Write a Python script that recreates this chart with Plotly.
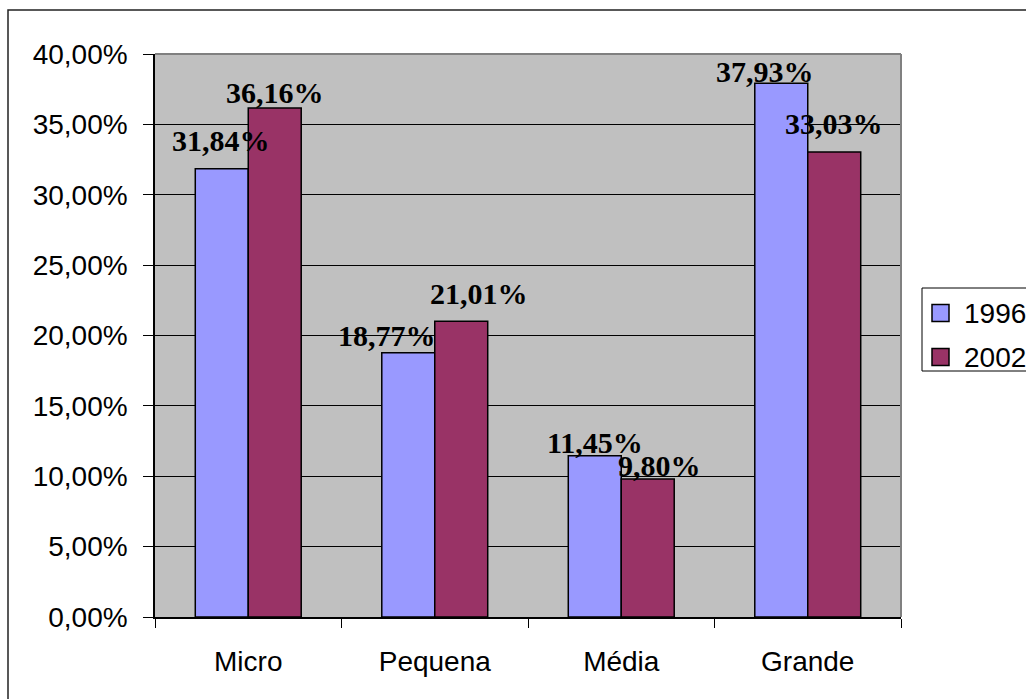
import plotly.graph_objects as go

# ---------------- data ----------------
categories = ["Micro", "Pequena", "Média", "Grande"]
series_names = ["1996", "2002"]
values_1996 = [31.84, 18.77, 11.45, 37.93]
values_2002 = [36.16, 21.01, 9.80, 33.03]
y_tick_values = [0, 5, 10, 15, 20, 25, 30, 35, 40]
y_tick_labels = ["0,00%", "5,00%", "10,00%", "15,00%", "20,00%",
                 "25,00%", "30,00%", "35,00%", "40,00%"]

# ---------------- styling / layout ----------------
W, H = 1026, 699
ML, MR, MT, MB = 155, 125, 54, 82
PW, PH = W - ML - MR, H - MT - MB
COLORS = ["#9999FF", "#993366"]
BARGAP = 0.432
AXIS_FONT = dict(family="Liberation Sans, Arial, sans-serif", size=28, color="black")
LABEL_FONT = dict(family="Liberation Serif, Times New Roman, serif", size=30, color="black")

# per-label pixel nudges (horizontal from bar centre, baseline gap above bar top)
label_dx = [[-1, -21, 0, -16], [0, 18, 12, 0]]
label_gap = [[18, 7, 3, 1], [5, 17, 3, 18]]
DESCENT = 8


def px2x(px):
    return (px - ML) / PW


def py2y(py):
    return (H - MB - py) / PH


def fmt(v):
    return f"{v:.2f}".replace(".", ",") + "%"


fig = go.Figure()
series_values = [values_1996, values_2002]
for name, vals, col in zip(series_names, series_values, COLORS):
    fig.add_trace(go.Bar(
        x=categories, y=vals, name=name,
        marker=dict(color=col, line=dict(color="black", width=1.5)),
        showlegend=False, hoverinfo="skip",
    ))

cat_w = PW / len(categories)
bar_w = cat_w * (1 - BARGAP) / 2
annotations = []
for s, vals in enumerate(series_values):
    side = -1 if s == 0 else 1
    for i, (c, v) in enumerate(zip(categories, vals)):
        annotations.append(dict(
            x=c, y=v, xref="x", yref="y", text=f"<b>{fmt(v)}</b>",
            showarrow=False, xanchor="center", yanchor="bottom",
            xshift=side * bar_w / 2 + label_dx[s][i],
            yshift=label_gap[s][i] - DESCENT,
            font=LABEL_FONT,
        ))

# manual legend
leg_left, leg_top, leg_bottom = 922, 288, 371
sq = 17
item_cy = [313, 357]
shapes = []
shapes.append(dict(type="rect", xref="paper", yref="paper",
                   x0=px2x(leg_left), x1=px2x(W + 20), y0=py2y(leg_bottom), y1=py2y(leg_top),
                   line=dict(color="black", width=1), fillcolor="white", layer="above"))
for name, col, cy in zip(series_names, COLORS, item_cy):
    shapes.append(dict(type="rect", xref="paper", yref="paper",
                       x0=px2x(932), x1=px2x(932 + sq), y0=py2y(cy + sq / 2), y1=py2y(cy - sq / 2),
                       line=dict(color="black", width=1.5), fillcolor=col, layer="above"))
    annotations.append(dict(x=px2x(962), y=py2y(cy), xref="paper", yref="paper",
                            text=name, showarrow=False, xanchor="left", yanchor="middle",
                            font=AXIS_FONT))

# plot frame (top/right grey) and outer chart border
shapes.append(dict(type="line", xref="paper", yref="paper", x0=0, x1=1, y0=1, y1=1,
                   line=dict(color="#808080", width=2), layer="above"))
shapes.append(dict(type="line", xref="paper", yref="paper", x0=1, x1=1, y0=0, y1=1,
                   line=dict(color="#808080", width=2), layer="above"))
shapes.append(dict(type="rect", xref="paper", yref="paper",
                   x0=px2x(8), x1=px2x(W + 20), y0=py2y(H + 20), y1=py2y(10),
                   line=dict(color="#222222", width=1.5), fillcolor="rgba(0,0,0,0)", layer="above"))

fig.update_layout(
    width=W, height=H,
    margin=dict(l=ML, r=MR, t=MT, b=MB, autoexpand=False),
    paper_bgcolor="white", plot_bgcolor="#C0C0C0",
    barmode="group", bargap=BARGAP, bargroupgap=0,
    annotations=annotations, shapes=shapes,
    showlegend=False,
)
fig.update_xaxes(
    type="category", tickson="boundaries", ticks="outside", ticklen=9, tickwidth=1,
    tickcolor="black", showline=True, linecolor="black", linewidth=1.5,
    showgrid=False, tickfont=AXIS_FONT, ticklabelstandoff=19,
)
fig.update_yaxes(
    range=[0, 40], tickvals=y_tick_values, ticktext=y_tick_labels,
    ticks="outside", ticklen=10, tickwidth=1, tickcolor="black",
    showline=True, linecolor="black", linewidth=1.5,
    showgrid=True, gridcolor="black", gridwidth=1, zeroline=False,
    tickfont=AXIS_FONT, ticklabelstandoff=10,
)

fig.write_html("out.html")
